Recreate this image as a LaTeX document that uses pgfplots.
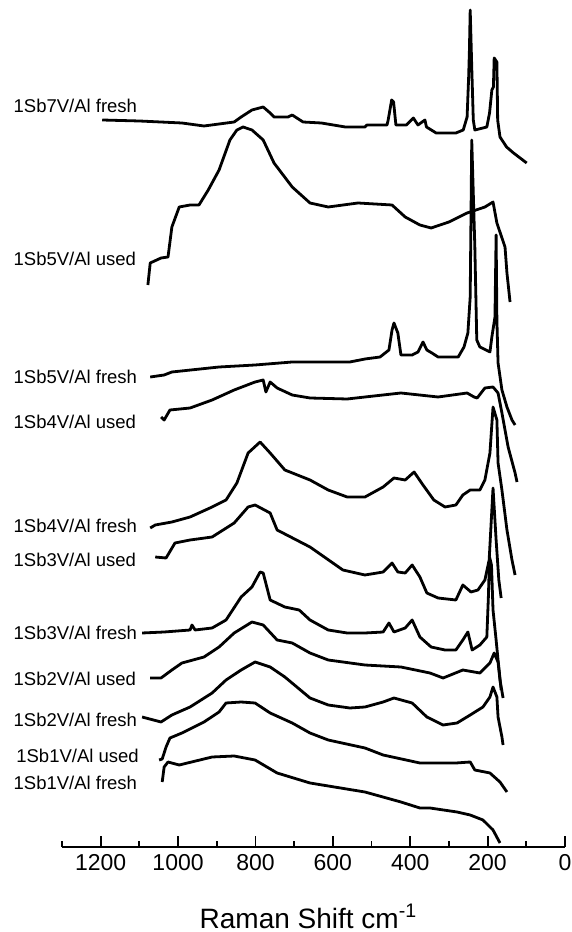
\documentclass[border=0pt]{standalone}
\usepackage{fontspec}
\setmainfont{Liberation Sans}
\usepackage{pgfplots}
\pgfplotsset{compat=1.18}
\tikzset{lbl/.style={anchor=west, inner sep=0pt, font=\fontsize{9.25}{11}\selectfont}}
\begin{document}
\begin{tikzpicture}
\useasboundingbox (0,0) rectangle (286pt,466pt);
\begin{axis}[
    at={(31pt,42.5pt)}, anchor=south west,
    scale only axis, width=251.5pt, height=418.5pt,
    xmin=0, xmax=1300, ymin=0, ymax=837,
    x dir=reverse,
    axis x line=bottom, axis y line=none,
    axis line style={-, line width=1pt},
    xtick={0,200,...,1200},
    minor xtick={100,300,...,1300},
    ytick=\empty,
    tick align=inside,
    major tick length=5.5pt, minor tick length=2.8pt,
    tick style={line width=0.9pt, black},
    /pgf/number format/assume math mode=true,
    /pgf/number format/1000 sep={},
    xticklabel style={font=\fontsize{11.5}{13}\selectfont},
    xlabel={Raman Shift cm\textsuperscript{-1}},
    xlabel style={font=\fontsize{14}{16}\selectfont, at={(axis description cs:0.49,0)}, anchor=base, yshift=-40.5pt},
    clip=false,
    every axis plot post/.append style={black, solid, line width=1.4pt, line join=round, mark=none},
]

% 1Sb7V/Al fresh
\addplot coordinates {(1196,727) (1100,726) (990,724) (933,721) (855,725) (837,730) (809,737) (780,740) (762,734) (752,730) (716,730) (705,732) (677,725) (630,724) (568,720) (517,720) (512,722) (460,722) (457,727) (448,747) (443,745) (437,722) (410,722) (392,729) (380,722) (362,727) (358,720) (333,714) (282,714) (263,717) (253,730) (249,770) (247,797) (245,837) (241,780) (237,727) (233,717) (202,720) (195,734) (189,757) (185,760) (183,789) (176,785) (174,727) (168,710) (151,700) (133,694) (99,684)};

% 1Sb5V/Al used
\addplot coordinates {(1078,562) (1072,584) (1044,589) (1026,590) (1016,620) (997,640) (969,642) (946,642) (922,657) (894,677) (866,707) (848,717) (832,720) (809,717) (780,707) (752,684) (705,660) (659,644) (612,640) (535,644) (447,642) (413,630) (375,622) (346,619) (300,625) (253,634) (245,635) (207,640) (186,645) (176,624) (155,600) (150,574) (142,545)};

% 1Sb5V/Al fresh
\addplot coordinates {(1072,470) (1036,472) (1016,475) (894,480) (801,482) (705,485) (556,485) (517,488) (478,490) (455,497) (447,517) (442,524) (432,514) (424,492) (395,492) (380,495) (367,505) (357,497) (344,494) (328,490) (276,490) (261,500) (251,514) (245,550) (241,707) (233,600) (228,507) (220,500) (194,495) (189,510) (181,530) (178,612) (176,527) (173,484) (163,457) (150,440) (137,427) (129,422)};

% 1Sb4V/Al used
\addplot coordinates {(1044,430) (1036,427) (1021,437) (969,439) (912,447) (855,457) (801,465) (780,467) (773,455) (762,465) (744,459) (705,452) (659,449) (563,448) (517,450) (424,454) (328,450) (253,454) (235,450) (227,449) (207,459) (186,460) (173,454) (163,434) (147,400) (129,374) (124,365)};

% 1Sb4V/Al fresh
\addplot coordinates {(1072,319) (1059,322) (1016,325) (969,330) (912,340) (876,347) (848,364) (819,394) (788,405) (762,394) (724,377) (659,367) (612,357) (563,350) (517,350) (470,360) (442,369) (413,367) (390,375) (367,362) (339,347) (310,340) (282,342) (264,352) (245,357) (220,357) (207,367) (194,394) (186,440) (176,427) (173,384) (163,357) (150,317) (137,287) (129,272)};

% 1Sb3V/Al used
\addplot coordinates {(1059,290) (1031,289) (1008,304) (969,307) (912,310) (855,324) (819,340) (801,342) (762,334) (744,317) (659,300) (574,277) (517,272) (470,275) (447,284) (432,275) (413,274) (395,282) (375,270) (357,254) (328,249) (282,247) (264,262) (243,255) (225,257) (207,267) (196,287) (186,359) (178,307) (171,267) (165,249)};

% 1Sb3V/Al fresh
\addplot coordinates {(1093,214) (1036,215) (969,217) (964,222) (956,217) (912,219) (876,227) (837,250) (809,260) (788,275) (780,274) (762,247) (724,240) (687,237) (659,227) (612,217) (563,214) (517,214) (470,215) (455,224) (442,215) (413,219) (395,227) (375,210) (346,200) (310,197) (282,197) (264,207) (251,215) (240,197) (220,202) (202,210) (198,250) (195,290) (190,282) (186,237) (178,207) (173,187) (165,157)};

% 1Sb2V/Al used
\addplot coordinates {(1072,169) (1044,169) (1016,177) (990,184) (933,190) (894,200) (855,214) (809,225) (780,222) (744,207) (705,204) (659,194) (612,187) (517,182) (424,180) (349,174) (315,169) (264,177) (220,174) (194,184) (183,194) (173,185) (168,167) (160,149)};

% 1Sb2V/Al fresh
\addplot coordinates {(1093,130) (1044,125) (1016,132) (969,140) (912,154) (876,167) (837,177) (801,185) (762,180) (724,170) (659,149) (612,142) (556,139) (517,140) (470,145) (442,149) (395,144) (357,130) (315,122) (279,124) (245,132) (212,140) (194,150) (186,160) (176,150) (173,130) (163,110) (160,102)};

% 1Sb1V/Al used
\addplot coordinates {(1049,87) (1041,88) (1031,100) (1021,109) (990,114) (933,125) (894,135) (876,144) (837,145) (801,144) (762,134) (705,124) (659,114) (612,107) (517,99) (470,92) (375,84) (282,84) (245,85) (233,77) (194,74) (168,65) (150,55)};

% 1Sb1V/Al fresh
\addplot coordinates {(1041,65) (1036,80) (1026,85) (997,82) (912,90) (855,91) (801,87) (744,74) (659,64) (517,55) (424,45) (375,39) (349,39) (279,35) (245,32) (212,27) (186,17) (168,4)};

\node[lbl] at (axis cs:1426,741) {1Sb7V/Al fresh};
\node[lbl] at (axis cs:1426,588) {1Sb5V/Al used};
\node[lbl] at (axis cs:1426,470) {1Sb5V/Al fresh};
\node[lbl] at (axis cs:1426,425) {1Sb4V/Al used};
\node[lbl] at (axis cs:1426,321) {1Sb4V/Al fresh};
\node[lbl] at (axis cs:1426,287) {1Sb3V/Al used};
\node[lbl] at (axis cs:1426,214) {1Sb3V/Al fresh};
\node[lbl] at (axis cs:1426,168) {1Sb2V/Al used};
\node[lbl] at (axis cs:1426,127) {1Sb2V/Al fresh};
\node[lbl] at (axis cs:1419,91) {1Sb1V/Al used};
\node[lbl] at (axis cs:1426,64) {1Sb1V/Al fresh};
\end{axis}
\end{tikzpicture}
\end{document}
